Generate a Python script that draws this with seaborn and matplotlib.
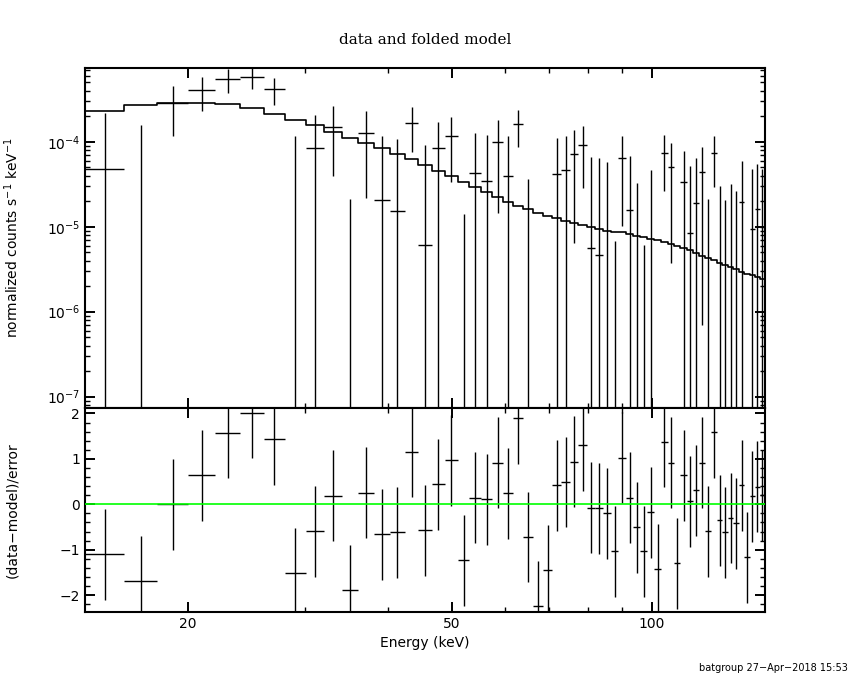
import numpy as np
import pandas as pd
import seaborn as sns
import matplotlib.pyplot as plt
from matplotlib.ticker import LogLocator, NullFormatter, MultipleLocator, FixedLocator

sns.set_theme(style="ticks")
plt.rcParams['font.family'] = ['DejaVu Sans']
plt.rcParams['text.color'] = 'black'
plt.rcParams['axes.labelcolor'] = 'black'
plt.rcParams['xtick.color'] = 'black'
plt.rcParams['ytick.color'] = 'black'

# bin edges (keV)
edges = [14.0, 16.0, 18.0, 20.0, 22.0, 24.0, 26.0, 28.0, 30.1, 32.1, 34.1, 36.1,
         38.2, 40.3, 42.4, 44.5, 46.6, 48.8, 51.0, 53.1, 55.2, 57.5, 59.6, 61.8,
         64.0, 66.1, 68.5, 70.8, 73.0, 75.2, 77.4, 79.8, 82.0, 84.4, 86.7, 89.0,
         91.3, 93.8, 96.1, 98.4, 100.8, 103.2, 105.6, 108.0, 110.4, 112.9, 115.3,
         117.7, 120.2, 122.7, 125.3, 127.7, 130.1, 132.6, 135.1, 137.8, 140.4,
         142.9, 145.4, 148.0]

# folded model per bin
model = [2.30e-4, 2.68e-4, 2.88e-4, 2.88e-4, 2.80e-4, 2.47e-4, 2.12e-4, 1.80e-4,
         1.56e-4, 1.31e-4, 1.11e-4, 9.73e-5, 8.43e-5, 7.17e-5, 6.21e-5, 5.32e-5,
         4.56e-5, 3.95e-5, 3.36e-5, 2.91e-5, 2.54e-5, 2.22e-5, 1.95e-5, 1.77e-5,
         1.60e-5, 1.46e-5, 1.34e-5, 1.26e-5, 1.18e-5, 1.10e-5, 1.04e-5, 9.92e-6,
         9.32e-6, 9.02e-6, 8.78e-6, 8.55e-6, 8.20e-6, 7.88e-6, 7.56e-6, 7.26e-6,
         6.97e-6, 6.61e-6, 6.26e-6, 5.93e-6, 5.62e-6, 5.25e-6, 4.90e-6, 4.58e-6,
         4.28e-6, 4.06e-6, 3.79e-6, 3.54e-6, 3.36e-6, 3.14e-6, 2.97e-6, 2.81e-6,
         2.67e-6, 2.53e-6, 2.42e-6]

# data (normalized counts s^-1 keV^-1)
data = [4.77e-5, -3.4e-6, 2.85e-4, 4.02e-4, 5.42e-4, 5.77e-4, 4.13e-4, -5.0e-6,
        8.37e-5, 1.50e-4, -8.2e-5, 1.26e-4, 2.05e-5, 1.52e-5, 1.66e-4, 6.04e-6,
        8.37e-5, 1.16e-4, -7.07e-5, 4.25e-5, 3.45e-5, 9.84e-5, 3.92e-5, 1.60e-4,
        -3.64e-5, -1.42e-4, -8.8e-5, 4.14e-5, 4.61e-5, 7.11e-5, 9.07e-5, 5.57e-6,
        4.61e-6, -3.3e-6, -5.82e-5, 6.38e-5, 1.57e-5, -1.79e-5, -4.39e-5, -1.36e-6,
        -6.17e-5, 7.36e-5, 5.04e-5, -5.39e-5, 3.36e-5, 8.36e-6, 1.92e-5, 4.37e-5,
        -2.0e-5, 7.30e-5, -1.04e-5, -2.43e-5, -8.8e-6, -1.36e-5, 1.95e-5, -4.28e-5,
        9.47e-6, 1.62e-5, 1.00e-5]

sigma = [1.68e-4, 1.61e-4, 1.68e-4, 1.73e-4, 1.70e-4, 1.64e-4, 1.45e-4, 1.22e-4,
         1.22e-4, 1.10e-4, 1.03e-4, 1.04e-4, 9.63e-5, 9.24e-5, 9.00e-5, 8.55e-5,
         8.54e-5, 8.20e-5, 8.48e-5, 8.41e-5, 8.55e-5, 8.40e-5, 7.65e-5, 7.42e-5,
         7.28e-5, 7.00e-5, 7.00e-5, 6.90e-5, 7.06e-5, 6.47e-5, 6.22e-5, 6.05e-5,
         5.97e-5, 6.15e-5, 6.50e-5, 5.36e-5, 5.22e-5, 5.06e-5, 5.00e-5, 4.79e-5,
         4.80e-5, 4.75e-5, 4.67e-5, 4.60e-5, 4.41e-5, 4.34e-5, 4.46e-5, 4.30e-5,
         4.12e-5, 4.36e-5, 4.05e-5, 4.49e-5, 4.06e-5, 3.99e-5, 3.98e-5, 3.90e-5,
         3.82e-5, 3.85e-5, 3.80e-5]

# (data-model)/error
resid = [-1.10, -1.69, 0.00, 0.64, 1.58, 2.02, 1.43, -1.52, -0.59, 0.19, -1.89,
         0.26, -0.66, -0.62, 1.16, -0.57, 0.44, 0.97, -1.23, 0.15, 0.11, 0.92,
         0.24, 1.89, -0.72, -2.24, -1.45, 0.42, 0.49, 0.94, 1.30, -0.07, -0.09,
         -0.20, -1.03, 1.03, 0.15, -0.51, -1.03, -0.18, -1.43, 1.38, 0.92, -1.30,
         0.64, 0.07, 0.31, 0.92, -0.59, 1.59, -0.35, -0.62, -0.30, -0.42, 0.42,
         -1.17, 0.18, 0.39, 0.20]

e = np.array(edges)
lo, hi = e[:-1], e[1:]
mid = (lo + hi) / 2
d = np.array(data)
s = np.array(sigma)
r = np.array(resid)

fig = plt.figure(figsize=(8.5, 6.8), dpi=100)
ax1 = fig.add_axes([0.1, 0.4, 0.8, 0.5])
ax2 = fig.add_axes([0.1, 0.1, 0.8, 0.3], sharex=ax1)

# top panel: data crosses + step model
ax1.set_xscale('log')
ax1.set_yscale('log')
up = d + s
dn = np.clip(d - s, 1e-12, None)
ok = up > 0
ax1.vlines(mid[ok], dn[ok], up[ok], color='black', lw=1.0)
pos = d > 0
ax1.hlines(d[pos], lo[pos], hi[pos], color='black', lw=1.0)

step = pd.DataFrame({'E': e, 'm': model + [model[-1]]})
sns.lineplot(data=step, x='E', y='m', drawstyle='steps-post', color='black',
             lw=1.2, sort=False, ax=ax1)
ax1.set_ylim(7.36e-8, 7.37e-4)
ax1.set_xlim(14.0, 148.0)

# bottom panel: residuals
ax2.vlines(mid, r - 1, r + 1, color='black', lw=1.0)
ax2.hlines(r, lo, hi, color='black', lw=1.0)
ax2.axhline(0, color='#00ff00', lw=1.2, zorder=5)
ax2.set_ylim(-2.37, 2.12)

for ax in (ax1, ax2):
    ax.set_xlabel('')
    ax.set_ylabel('')
    for sp in ax.spines.values():
        sp.set_linewidth(1.5)
        sp.set_color('black')
    ax.tick_params(which='both', direction='in', top=True, right=True,
                   colors='black', labelsize=10)
    ax.tick_params(which='major', length=7, width=1.4)
    ax.tick_params(which='minor', length=3.5, width=1.0)
    ax.xaxis.set_major_locator(FixedLocator([20, 50, 100]))
    ax.xaxis.set_minor_locator(FixedLocator([30, 40, 60, 70, 80, 90]))
    ax.xaxis.set_minor_formatter(NullFormatter())

ax1.tick_params(labelbottom=False)
ax2.set_xticklabels(['20', '50', '100'])
ax1.yaxis.set_major_locator(LogLocator(base=10, numticks=10))
ax1.yaxis.set_minor_locator(LogLocator(base=10, subs=np.arange(2, 10), numticks=20))
ax1.yaxis.set_minor_formatter(NullFormatter())
ax2.yaxis.set_major_locator(MultipleLocator(1))
ax2.yaxis.set_minor_locator(MultipleLocator(0.2))

fig.text(0.5, 0.941, 'data and folded model', ha='center', va='center',
         fontsize=11, family='DejaVu Serif', color='black')
fig.text(0.5, 0.054, 'Energy (keV)', ha='center', va='center', fontsize=10)
fig.text(0.014, 0.65, 'normalized counts s$^{-1}$ keV$^{-1}$', rotation=90,
         ha='center', va='center', fontsize=10)
fig.text(0.014, 0.25, '(data\u2212model)/error', rotation=90,
         ha='center', va='center', fontsize=10)
fig.text(0.997, 0.018, 'batgroup 27\u2212Apr\u22122018 15:53', ha='right',
         va='center', fontsize=7)

fig.savefig('out.png', dpi=100, facecolor='white')
